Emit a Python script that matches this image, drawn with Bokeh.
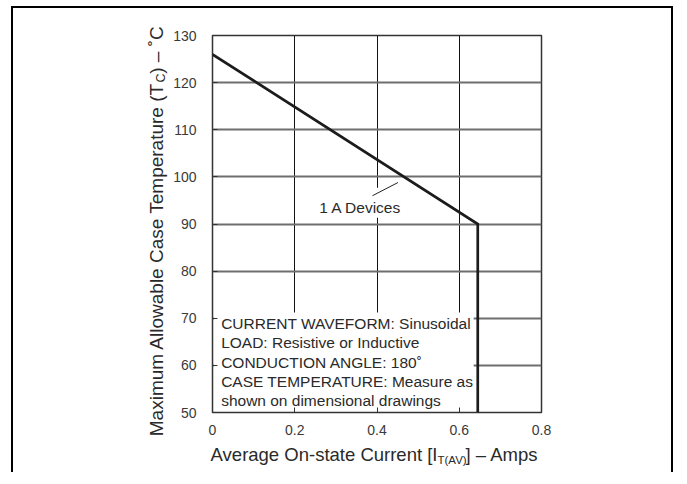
import math
from bokeh.plotting import figure
from bokeh.models import Label, FixedTicker, Range1d
from bokeh.embed import file_html
from bokeh.resources import INLINE

# ---- data ----
current_amps = [0.0, 0.645, 0.645]
case_temp_c = [126.0, 90.0, 50.0]
x_ticks = [0.0, 0.2, 0.4, 0.6, 0.8]
y_ticks = [50, 60, 70, 80, 90, 100, 110, 120, 130]
y_grid = [60, 70, 80, 90, 100, 110, 120]
curve_name = "1 A Devices"
notes = [
    "CURRENT WAVEFORM: Sinusoidal",
    "LOAD: Resistive or Inductive",
    "CONDUCTION ANGLE: 180\u02da",
    "CASE TEMPERATURE: Measure as",
    "shown on dimensional drawings",
]
x_title = ["Average On-state Current [I", "T(AV)", "] \u2013 Amps"]
y_title = ["Maximum Allowable Case Temperature (T", "C", ") \u2013 \u02daC"]

FONT = "Liberation Sans"
TXT = "#2a2a2a"

p = figure(width=662, height=466, output_backend="svg", toolbar_location=None,
           x_range=Range1d(0, 0.8), y_range=Range1d(50, 130),
           min_border_left=199, min_border_right=134,
           min_border_top=27, min_border_bottom=62)
p.styles = {"border-left": "2px solid black", "border-top": "2px solid black",
            "border-right": "2px solid black",
            "margin-left": "11px", "margin-top": "6px"}
p.background_fill_color = "white"
p.border_fill_color = "white"
p.outline_line_color = "#333333"
p.outline_line_width = 1.5

for ax in (p.xaxis[0], p.yaxis[0]):
    ax.axis_line_color = None
    ax.major_tick_in = 5
    ax.major_tick_out = 0
    ax.minor_tick_line_color = None
    ax.major_tick_line_color = "#333333"
    ax.major_tick_line_width = 1
    ax.major_label_text_font = FONT
    ax.major_label_text_font_size = "14px"
    ax.major_label_text_color = "#3a3a3a"

p.xaxis.ticker = FixedTicker(ticks=x_ticks)
p.xaxis.major_label_overrides = {0: "0"}
p.xaxis.major_label_standoff = 12
p.yaxis.ticker = FixedTicker(ticks=y_ticks)
p.yaxis.major_label_standoff = 16

p.xgrid.ticker = FixedTicker(ticks=x_ticks[1:-1])
p.xgrid.grid_line_color = "#111111"
p.xgrid.grid_line_width = 1
p.ygrid.ticker = FixedTicker(ticks=y_grid)
p.ygrid.grid_line_color = "#6e6e6e"
p.ygrid.grid_line_width = 1.8

# white backgrounds behind the notes and the curve label
p.quad(left=0.004, right=0.635, bottom=50.3, top=71.2,
       fill_color="white", line_color=None)
p.quad(left=0.253, right=0.467, bottom=91.3, top=97.7,
       fill_color="white", line_color=None)

# curve
p.line(current_amps, case_temp_c, line_color="#1c1c1c", line_width=2.7,
       line_join="miter")
# leader line for curve label
p.line([0.389, 0.451], [96.0, 98.8], line_color="#222222", line_width=1)

def lab(x, y, text, size, align="left", angle=0.0):
    return Label(x=x, y=y, text=text, text_align=align,
                 text_baseline="alphabetic", angle=angle, text_font=FONT,
                 text_font_size=size, text_color=TXT)

p.add_layout(lab(0.36, 93.4, curve_name, "15.5px", "center"))

for i, line in enumerate(notes):
    p.add_layout(lab(0.021, 68.87 - i * 4.08, line, "15.5px"))

# axis titles with subscripts, placed in side panels (not clipped to frame)
p.add_layout(lab(0.5471, 41.09, x_title[0], "18.5px", "right"), "below")
p.add_layout(lab(0.5471, 39.82, x_title[1], "11.5px", "left"), "left")
p.add_layout(lab(0.6152, 41.09, x_title[2], "18.5px", "left"), "above")

ang = math.pi / 2
p.add_layout(lab(-0.135, 120.03, y_title[0], "19px", "right", ang), "left")
p.add_layout(lab(-0.1262, 120.03, y_title[1], "12.5px", "left", ang), "left")
p.add_layout(lab(-0.135, 121.87, y_title[2], "19px", "left", ang), "left")

open("out.html", "w").write(file_html(p, INLINE))
